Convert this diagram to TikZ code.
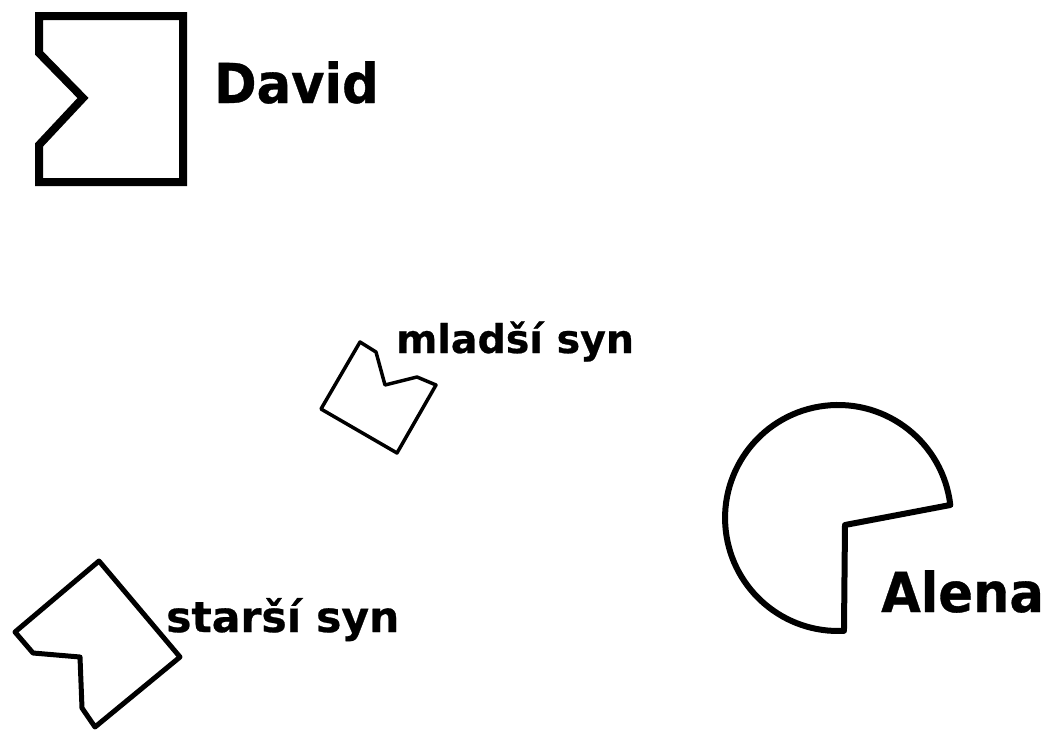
\documentclass[tikz,border=0pt]{standalone}
\usepackage{fontspec}
\setmainfont{DejaVu Sans}
\newfontfamily\capsfont[FakeStretch=0.93,FakeBold=0.6]{DejaVu Sans Bold}
\newfontfamily\lowfont[FakeBold=0.6]{DejaVu Sans Bold}
\begin{document}
\begin{tikzpicture}[x=1pt,y=-1pt,
  bigname/.style={font=\capsfont\fontsize{55}{60}\selectfont, anchor=base west, inner sep=0pt},
  smallname/.style={font=\lowfont\fontsize{41}{46}\selectfont, anchor=base west, inner sep=0pt},
  person/.style={draw=black, fill=white}]
\useasboundingbox (0,0) rectangle (1049,731);
% David
\draw[person, line width=8pt, line join=miter]
  (39,16) -- (183,16) -- (183,182) -- (39,182) -- (39,145) -- (83,98) -- (39,53) -- cycle;
\node[bigname] (david) at (214,103) {David};
% mladsi syn
\draw[person, line width=3.5pt, line join=round]
  (360,342) -- (376,352) -- (385,385) -- (417,377) -- (436,385) -- (397,453) -- (321,409) -- cycle;
\node[smallname, font=\lowfont\fontsize{39.5}{45}\selectfont] (mladsi) at (396,353) {mladší syn};
% starsi syn
\draw[person, line width=5pt, line join=round]
  (99,561) -- (180,657) -- (95,727) -- (82,708) -- (80,657) -- (33,653) -- (15,632) -- cycle;
\node[smallname, font=\lowfont\fontsize{42.5}{47}\selectfont] (starsi) at (166,632) {starší syn};
% Alena
\draw[person, line width=6pt, line join=round]
  (845,525) -- (950.3,505) arc[start angle=-6.6, end angle=-273, radius=113] -- cycle;
\node[bigname] (alena) at (881,612) {Alena};
\end{tikzpicture}
\end{document}
